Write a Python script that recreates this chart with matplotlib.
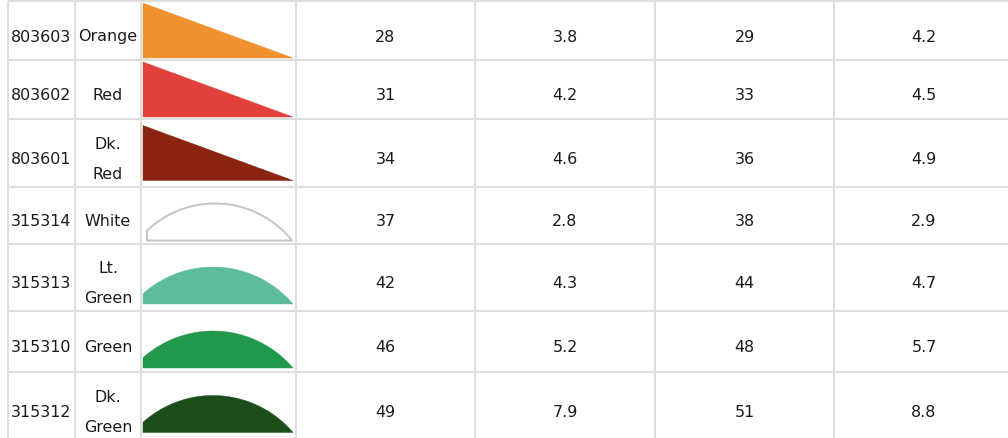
import numpy as np
import matplotlib
matplotlib.use("Agg")
import matplotlib.pyplot as plt
from matplotlib.patches import Polygon

# table contents
codes = ["803603", "803602", "803601", "315314", "315313", "315310", "315312"]
names = ["Orange", "Red", "Dk.\nRed", "White", "Lt.\nGreen", "Green", "Dk.\nGreen"]
shapes = ["wedge", "wedge", "wedge", "dome", "dome", "dome", "dome"]
fills = ["#f0922f", "#e2403b", "#8a2411", "#ffffff", "#5dbb9e", "#22984a", "#1b4e1a"]
col_a = [28, 31, 34, 37, 42, 46, 49]
col_b = [3.8, 4.2, 4.6, 2.8, 4.3, 5.2, 7.9]
col_c = [29, 33, 36, 38, 44, 48, 51]
col_d = [4.2, 4.5, 4.9, 2.9, 4.7, 5.7, 8.8]

# layout in pixels
col_edges = [8, 75, 141, 296, 475, 655, 834, 1014]
row_edges = [2, 61, 120, 188, 245, 312, 373, 441]
grid_color = "#dedede"
text_color = "#1a1a1a"
fs = 11.4
line_gap = 30


def dome(ax, x0, x1, xp, base, h, face, edge=None):
    # circular arc: peak at xp, reaching the base at the right end
    half = x1 - xp
    r = (half ** 2 + h ** 2) / (2 * h)
    cy = base - h + r
    xs = np.linspace(x0, x1, 80)
    ys = cy - np.sqrt(np.maximum(r ** 2 - (xs - xp) ** 2, 0))
    ys = np.minimum(ys, base)
    pts = [(x0, base)] + list(zip(xs, ys)) + [(x1, base)]
    if edge is None:
        ax.add_patch(Polygon(pts, closed=True, facecolor=face, edgecolor=face, lw=0.3))
    else:
        ax.add_patch(Polygon(pts, closed=True, facecolor=face, edgecolor=edge,
                             lw=1.4, joinstyle="round"))


fig = plt.figure(figsize=(10.08, 4.39), dpi=100)
ax = fig.add_axes([0, 0, 1, 1])
ax.set_xlim(0, 1008)
ax.set_ylim(439, 0)
ax.axis("off")

# grid
for x in col_edges:
    ax.plot([x, x], [row_edges[0], row_edges[-1]], color=grid_color, lw=1.5,
            solid_capstyle="butt")
for y in row_edges:
    ax.plot([col_edges[0], col_edges[-1]], [y, y], color=grid_color, lw=1.5,
            solid_capstyle="butt")

centers = [(col_edges[i] + col_edges[i + 1]) / 2 for i in range(len(col_edges) - 1)]

for i in range(len(codes)):
    top, bot = row_edges[i], row_edges[i + 1]
    mid = (top + bot) / 2

    def put(x, label):
        lines = label.split("\n")
        if len(lines) == 1:
            ax.text(x, mid + 10, lines[0], ha="center", va="baseline",
                    fontsize=fs, color=text_color)
        else:
            for k, s in enumerate(lines):
                ax.text(x, mid - 5 + k * line_gap, s, ha="center", va="baseline",
                        fontsize=fs, color=text_color)

    put(centers[0], codes[i])
    put(centers[1], names[i])
    put(centers[3], str(col_a[i]))
    put(centers[4], str(col_b[i]))
    put(centers[5], str(col_c[i]))
    put(centers[6], str(col_d[i]))

    # picture cell
    img_top = mid - 27.5
    img_bot = mid + 27.5
    if shapes[i] == "wedge":
        ax.add_patch(Polygon([(143, img_top), (293, img_bot), (143, img_bot)],
                             closed=True, facecolor=fills[i], edgecolor=fills[i], lw=0.3))
    elif fills[i] == "#ffffff":
        dome(ax, 147, 292, 215, img_bot - 2.5, 37, fills[i], edge="#c4c4c4")
    else:
        dome(ax, 143, 293, 213, img_bot - 1, 37, fills[i])

fig.savefig("out.png", dpi=100)
